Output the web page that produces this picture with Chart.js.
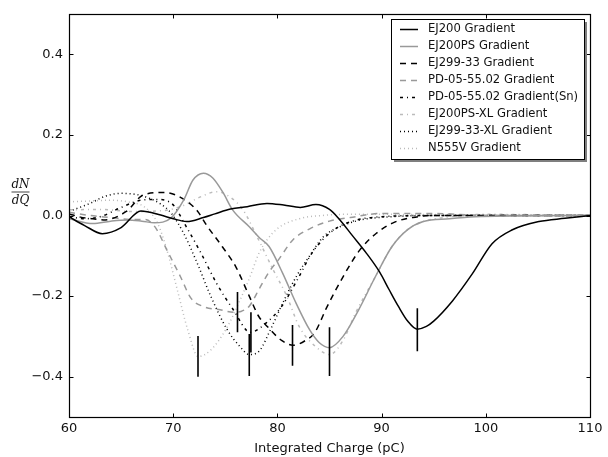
<!DOCTYPE html>
<html>
<head>
<meta charset="utf-8">
<script src="https://cdn.jsdelivr.net/npm/chart.js@4.4.1/dist/chart.umd.min.js"></script>
<style>
html,body{margin:0;padding:0;background:#fff;}
canvas{display:block;}
</style>
</head>
<body>
<canvas id="c" width="608" height="457"></canvas>
<script>
// ---- data ----
const xTicks = [60, 70, 80, 90, 100, 110];
const yTicks = [-0.4, -0.2, 0.0, 0.2, 0.4];

const labels = ["EJ200 Gradient","EJ200PS Gradient","EJ299-33 Gradient","PD-05-55.02 Gradient",
  "PD-05-55.02 Gradient(Sn)","EJ200PS-XL Gradient","EJ299-33-XL Gradient","N555V Gradient"];

const ej200X = [60,61.5,63.2,65,66.9,68.8,70,71.3,72.9,74,75.5,77.1,79.0,80.6,82.2,83.7,85.0,85.9,87.2,88.5,89.8,90.7,91.6,92.5,93.4,94.3,95.0,96.8,98.7,100.6,102.5,105.1,107.6,110];
const ej200Y = [-0.003,-0.025,-0.045,-0.03,0.011,0.001,-0.008,-0.015,-0.005,0.004,0.016,0.022,0.03,0.026,0.02,0.027,0.015,-0.008,-0.05,-0.092,-0.14,-0.183,-0.225,-0.262,-0.282,-0.275,-0.262,-0.212,-0.145,-0.07,-0.036,-0.015,-0.007,0.0];

const ej200psX = [60,62.3,64,65.6,67,68.2,69.8,71,71.9,72.9,73.8,74.8,75.7,77.3,78.3,79.2,80.5,81.8,83.1,84.0,85.0,86.3,87.8,89.4,91.0,92.5,94,96.5,99,102,110];
const ej200psY = [-0.008,-0.02,-0.014,-0.011,-0.014,-0.018,-0.006,0.038,0.088,0.105,0.093,0.056,0.014,-0.028,-0.056,-0.077,-0.143,-0.218,-0.284,-0.315,-0.328,-0.3,-0.234,-0.152,-0.077,-0.035,-0.015,-0.008,-0.003,-0.001,0];

const ej29933X = [60,61.1,62.3,63.3,65.5,67.2,69.2,70.7,72.3,73.2,74.7,76.0,77.3,78.2,79.2,80.4,81.5,82.7,83.6,84.7,86.3,87.9,89.5,91.2,93,95,100,110];
const ej29933Y = [0.004,-0.004,-0.008,-0.011,0.01,0.052,0.057,0.045,0.012,-0.024,-0.077,-0.127,-0.2,-0.25,-0.28,-0.31,-0.322,-0.31,-0.29,-0.23,-0.152,-0.086,-0.044,-0.017,-0.005,0,0,0];

const pdX = [60,62,64,66,67.3,68.3,69.4,70.7,71.7,72.9,74.5,75.8,76.5,77.3,78.3,79.2,80.1,81.5,83.1,85.0,87,90,95,100,110];
const pdY = [0.008,0.0,-0.005,-0.01,-0.01,-0.03,-0.086,-0.152,-0.205,-0.226,-0.234,-0.24,-0.238,-0.225,-0.18,-0.14,-0.11,-0.06,-0.033,-0.014,-0.005,0.005,0.005,0.0,0];

const pdSnX = [60,61.5,63,65,66.9,68.3,69.8,71.3,72.6,74.2,75.8,77.4,78.9,80.4,81.9,83.4,85.4,87.5,90,95,110];
const pdSnY = [-0.003,-0.008,-0.003,0.02,0.038,0.04,0.031,-0.03,-0.09,-0.17,-0.235,-0.29,-0.267,-0.226,-0.16,-0.09,-0.036,-0.012,-0.003,0,0];

const ej200psXlX = [60,63,66,69,71,72.5,74.2,75.5,76.7,78.0,79.6,80.9,82.1,83.7,85.0,86.3,87.5,89.4,91.0,92.5,94,96,100,110];
const ej200psXlY = [0.014,0.015,0.01,0.012,0.025,0.045,0.059,0.045,0.014,-0.05,-0.135,-0.2,-0.276,-0.326,-0.345,-0.31,-0.242,-0.152,-0.077,-0.035,-0.015,-0.005,0.003,0];

const ej29933XlX = [60,62,63.5,65,66.5,67.5,68.7,69.8,71,72.3,73.6,75.2,76.4,77.3,78.3,79.3,80.5,81.8,83.1,84.4,86,88,91,95,110];
const ej29933XlY = [0.01,0.03,0.048,0.055,0.052,0.045,0.03,0.006,-0.044,-0.118,-0.2,-0.284,-0.325,-0.345,-0.335,-0.285,-0.218,-0.152,-0.1,-0.053,-0.028,-0.011,-0.003,0,0];

const n555vX = [60,62,64,66,67.2,68.5,69.4,70.4,71.4,72.4,73.6,75.2,76.7,77.4,78.3,79.9,82.1,84.3,87,110];
const n555vY = [0.034,0.036,0.038,0.032,0.022,-0.019,-0.086,-0.185,-0.284,-0.35,-0.334,-0.276,-0.193,-0.15,-0.09,-0.035,-0.008,0.0,0.003,0];

// vertical marker bars (minimum positions)
const markerX    = [72.38, 76.17, 77.30, 77.46, 81.45, 85.0, 85.0, 93.43];
const markerLow  = [-0.400, -0.290, -0.398, -0.340, -0.373, -0.377, -0.398, -0.337];
const markerHigh = [-0.299, -0.190, -0.294, -0.240, -0.272, -0.277, -0.300, -0.230];

// ---- build ----
function pts(xs, ys){ return xs.map((x,i)=>({x:x, y:ys[i]})); }
const seriesX = [ej200X, ej200psX, ej29933X, pdX, pdSnX, ej200psXlX, ej29933XlX, n555vX];
const seriesY = [ej200Y, ej200psY, ej29933Y, pdY, pdSnY, ej200psXlY, ej29933XlY, n555vY];
const colors = ['#000000','#999999','#000000','#999999','#000000','#bbbbbb','#000000','#bbbbbb'];
const dashes = [[],[],[6,5],[6,5],[3,4,1,4],[3,4,1,4],[1,3],[1,3]];

const datasets = labels.map((lab,i)=>({
  label: lab,
  data: pts(seriesX[i], seriesY[i]),
  borderColor: colors[i],
  borderDash: dashes[i],
  borderWidth: 1.5,
  pointRadius: 0,
  fill: false,
  cubicInterpolationMode: 'monotone',
  inLegend: true
}));

const markerData = [];
markerX.forEach((x,i)=>{
  markerData.push({x:x, y:markerLow[i]});
  markerData.push({x:x, y:markerHigh[i]});
  markerData.push({x:x, y:null});
});
datasets.push({
  label: 'markers',
  data: markerData,
  borderColor: '#000',
  borderWidth: 1.6,
  pointRadius: 0,
  spanGaps: false,
  tension: 0,
  order: -1,
  inLegend: false
});

const FONT = "'DejaVu Sans', sans-serif";

const framePlugin = {
  id: 'frame',
  afterDatasetsDraw(chart){
    const {ctx, chartArea:a, scales} = chart;
    ctx.save();
    ctx.strokeStyle = '#000';
    ctx.lineWidth = 1.2;
    ctx.setLineDash([]);
    const L = Math.round(a.left)+0.5, R = Math.round(a.right)+0.5, T = Math.round(a.top)+0.5, B = Math.round(a.bottom)+0.5;
    ctx.strokeRect(L, T, R-L, B-T);
    ctx.lineWidth = 1;
    ctx.beginPath();
    xTicks.forEach(v=>{
      const px = Math.round(scales.x.getPixelForValue(v))+0.5;
      ctx.moveTo(px, B); ctx.lineTo(px, B-4);
      ctx.moveTo(px, T); ctx.lineTo(px, T+4);
    });
    yTicks.forEach(v=>{
      const py = Math.round(scales.y.getPixelForValue(v))+0.5;
      ctx.moveTo(L, py); ctx.lineTo(L+4, py);
      ctx.moveTo(R, py); ctx.lineTo(R-4, py);
    });
    ctx.stroke();
    ctx.restore();
  },
  afterDraw(chart){
    const ctx = chart.ctx;
    // legend
    ctx.save();
    const bx = 391, by = 19, bw = 193, bh = 140;
    ctx.fillStyle = '#7f7f7f';
    ctx.fillRect(bx+3, by+3, bw, bh);
    ctx.fillStyle = '#fff';
    ctx.fillRect(bx, by, bw, bh);
    ctx.strokeStyle = '#000';
    ctx.lineWidth = 1;
    ctx.strokeRect(bx+0.5, by+0.5, bw, bh);
    ctx.font = "11.6px " + FONT;
    ctx.textBaseline = 'middle';
    ctx.textAlign = 'left';
    const items = chart.data.datasets.filter(d=>d.inLegend);
    items.forEach((d,i)=>{
      const y = 28.5 + i*17;
      ctx.strokeStyle = d.borderColor;
      ctx.lineWidth = d.borderWidth;
      ctx.setLineDash(d.borderDash || []);
      ctx.beginPath();
      ctx.moveTo(400, Math.round(y)+0.5);
      ctx.lineTo(418, Math.round(y)+0.5);
      ctx.stroke();
      ctx.setLineDash([]);
      ctx.fillStyle = '#111';
      ctx.fillText(d.label, 428, y+0.5);
    });
    ctx.restore();

    // y-axis label dN/dQ as a fraction
    ctx.save();
    ctx.fillStyle = '#111';
    ctx.font = "italic 12px 'DejaVu Serif', serif";
    ctx.textAlign = 'center';
    ctx.textBaseline = 'alphabetic';
    ctx.fillText('dN', 20.5, 188);
    ctx.fillText('dQ', 20.5, 204);
    ctx.strokeStyle = '#111';
    ctx.lineWidth = 0.8;
    ctx.beginPath();
    ctx.moveTo(11.5, 192); ctx.lineTo(29.5, 192);
    ctx.stroke();
    ctx.restore();
  }
};

new Chart(document.getElementById('c'), {
  type: 'line',
  data: { datasets: datasets },
  options: {
    responsive: false,
    animation: false,
    devicePixelRatio: 1,
    layout: { padding: { left: 0, right: 18, top: 14, bottom: 0 } },
    plugins: { legend: { display: false }, tooltip: { enabled: false } },
    scales: {
      x: {
        type: 'linear',
        min: 60, max: 110,
        afterBuildTicks(s){ s.ticks = xTicks.map(v=>({value:v})); },
        afterFit(s){ s.height = 40; },
        grid: { display: false, drawTicks: false },
        border: { display: false },
        ticks: { font: { family: FONT, size: 13 }, color: '#111', padding: 4, maxRotation: 0,
                 callback: v => String(v) },
        title: { display: true, text: 'Integrated Charge (pC)', color: '#111',
                 font: { family: FONT, size: 13 }, padding: { top: 0, bottom: 1 } }
      },
      y: {
        type: 'linear',
        min: -0.5, max: 0.5,
        afterBuildTicks(s){ s.ticks = yTicks.map(v=>({value:v})); },
        afterFit(s){ s.width = 69; },
        grid: { display: false, drawTicks: false },
        border: { display: false },
        ticks: { font: { family: FONT, size: 13 }, color: '#111', padding: 6,
                 callback: v => (v < 0 ? '\u2212' : '') + Math.abs(v).toFixed(1) }
      }
    }
  },
  plugins: [framePlugin]
});
</script>
</body>
</html>
